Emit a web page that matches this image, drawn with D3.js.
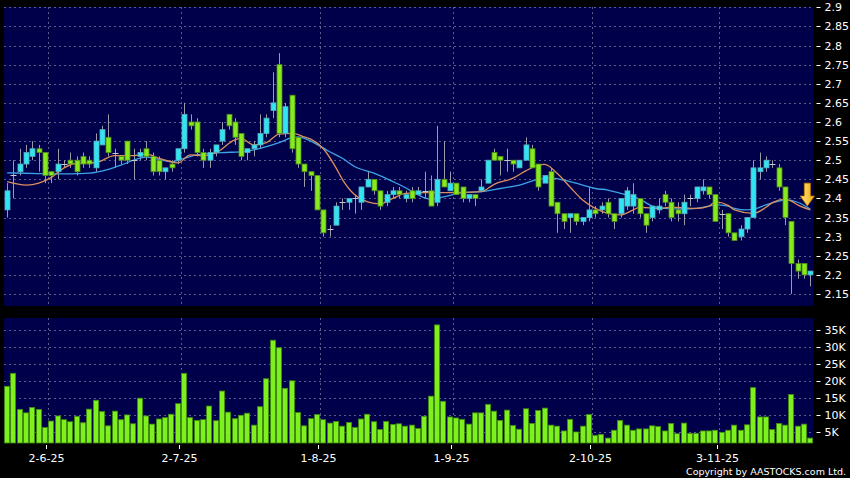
<!DOCTYPE html>
<html>
<head>
<meta charset="utf-8">
<script src="https://cdn.jsdelivr.net/npm/d3@7"></script>
<style>
  body { margin: 0; background: #000; }
  svg { display: block; font-family: 'DejaVu Sans', sans-serif; }
</style>
</head>
<body>
<div id="vis"></div>
<script>
// trading days, May 22 - Nov 21 2025
const mayDays = [22, 23, 26, 27, 28, 29, 30];
const junDays = [2, 3, 4, 5, 6, 9, 10, 11, 12, 13, 16, 17, 18, 19, 20, 23, 24, 25, 26, 27, 30];
const julDays = [2, 3, 4, 7, 8, 9, 10, 11, 14, 15, 16, 17, 18, 21, 22, 23, 24, 25, 28, 29, 30, 31];
const augDays = [1, 4, 5, 6, 7, 8, 11, 12, 13, 14, 15, 18, 19, 20, 21, 22, 25, 26, 27, 28, 29];
const sepDays = [1, 2, 3, 4, 5, 8, 9, 10, 11, 12, 15, 16, 17, 18, 19, 22, 23, 24, 25, 26, 29, 30];
const octDays = [2, 3, 6, 8, 9, 10, 13, 14, 15, 16, 17, 20, 21, 22, 23, 24, 27, 28, 30, 31];
const novDays = [3, 4, 5, 6, 7, 10, 11, 12, 13, 14, 17, 18, 19, 20, 21];

const opens = [
  2.37, 2.46, 2.47, 2.49, 2.51, 2.53, 2.52, 2.47, 2.47, 2.49,
  2.50, 2.50, 2.51, 2.50, 2.48, 2.54, 2.56, 2.52, 2.51, 2.55,
  2.50, 2.51, 2.53, 2.51, 2.50, 2.47, 2.49, 2.50, 2.53, 2.60,
  2.60, 2.52, 2.50, 2.52, 2.55, 2.62, 2.60, 2.57, 2.52, 2.53,
  2.54, 2.57, 2.63, 2.75, 2.57, 2.67, 2.56, 2.49, 2.47, 2.46,
  2.37, 2.32, 2.33, 2.39, 2.39, 2.40, 2.39, 2.43, 2.45, 2.42,
  2.39, 2.41, 2.42, 2.40, 2.42, 2.41, 2.42, 2.42, 2.39, 2.45,
  2.42, 2.44, 2.43, 2.40, 2.41, 2.42, 2.44, 2.52, 2.51, 2.50,
  2.50, 2.48, 2.50, 2.53, 2.49, 2.44, 2.47, 2.39, 2.36, 2.35,
  2.36, 2.34, 2.35, 2.37, 2.37, 2.39, 2.36, 2.36, 2.38, 2.38,
  2.40, 2.36, 2.35, 2.37, 2.41, 2.39, 2.37, 2.36, 2.40, 2.40,
  2.42, 2.43, 2.41, 2.36, 2.36, 2.31, 2.30, 2.32, 2.35, 2.47,
  2.48, 2.49, 2.48, 2.43, 2.34, 2.23, 2.23, 2.20
];
const highs = [
  2.44, 2.50, 2.53, 2.54, 2.55, 2.54, 2.52, 2.47, 2.53, 2.50,
  2.52, 2.51, 2.52, 2.51, 2.57, 2.59, 2.62, 2.53, 2.51, 2.55,
  2.53, 2.53, 2.55, 2.52, 2.51, 2.48, 2.50, 2.53, 2.65, 2.62,
  2.61, 2.53, 2.53, 2.54, 2.60, 2.62, 2.61, 2.57, 2.53, 2.55,
  2.62, 2.62, 2.73, 2.78, 2.65, 2.67, 2.56, 2.49, 2.47, 2.46,
  2.37, 2.33, 2.39, 2.40, 2.40, 2.41, 2.43, 2.47, 2.45, 2.42,
  2.42, 2.43, 2.43, 2.42, 2.43, 2.43, 2.47, 2.46, 2.59, 2.55,
  2.47, 2.44, 2.43, 2.41, 2.41, 2.45, 2.50, 2.53, 2.51, 2.53,
  2.50, 2.50, 2.56, 2.54, 2.49, 2.46, 2.48, 2.39, 2.36, 2.36,
  2.36, 2.35, 2.43, 2.38, 2.39, 2.40, 2.36, 2.40, 2.43, 2.44,
  2.40, 2.36, 2.38, 2.40, 2.42, 2.40, 2.39, 2.41, 2.41, 2.43,
  2.45, 2.43, 2.41, 2.37, 2.36, 2.31, 2.33, 2.35, 2.50, 2.52,
  2.51, 2.50, 2.49, 2.43, 2.34, 2.24, 2.23, 2.21
];
const lows = [
  2.35, 2.40, 2.46, 2.48, 2.50, 2.47, 2.44, 2.44, 2.45, 2.48,
  2.48, 2.46, 2.48, 2.48, 2.47, 2.54, 2.51, 2.48, 2.49, 2.49,
  2.45, 2.50, 2.50, 2.46, 2.46, 2.45, 2.47, 2.49, 2.52, 2.58,
  2.51, 2.48, 2.48, 2.51, 2.54, 2.58, 2.54, 2.50, 2.50, 2.51,
  2.53, 2.56, 2.61, 2.56, 2.56, 2.52, 2.48, 2.43, 2.42, 2.37,
  2.30, 2.30, 2.33, 2.37, 2.37, 2.36, 2.37, 2.43, 2.41, 2.37,
  2.38, 2.40, 2.40, 2.39, 2.39, 2.41, 2.40, 2.38, 2.38, 2.43,
  2.42, 2.41, 2.39, 2.39, 2.38, 2.42, 2.44, 2.50, 2.46, 2.47,
  2.47, 2.48, 2.50, 2.48, 2.42, 2.44, 2.38, 2.31, 2.32, 2.31,
  2.33, 2.33, 2.34, 2.35, 2.36, 2.35, 2.32, 2.35, 2.37, 2.36,
  2.35, 2.31, 2.34, 2.36, 2.38, 2.34, 2.34, 2.33, 2.38, 2.39,
  2.41, 2.40, 2.34, 2.32, 2.30, 2.29, 2.29, 2.31, 2.35, 2.45,
  2.47, 2.48, 2.42, 2.33, 2.15, 2.19, 2.19, 2.17
];
const closes = [
  2.42, 2.46, 2.49, 2.52, 2.53, 2.52, 2.46, 2.46, 2.49, 2.49,
  2.49, 2.47, 2.49, 2.49, 2.55, 2.58, 2.52, 2.52, 2.50, 2.50,
  2.50, 2.52, 2.51, 2.47, 2.47, 2.48, 2.48, 2.53, 2.62, 2.59,
  2.52, 2.50, 2.52, 2.54, 2.58, 2.59, 2.56, 2.51, 2.53, 2.54,
  2.57, 2.61, 2.65, 2.57, 2.64, 2.53, 2.49, 2.47, 2.46, 2.37,
  2.31, 2.32, 2.38, 2.39, 2.40, 2.40, 2.43, 2.45, 2.42, 2.38,
  2.41, 2.42, 2.41, 2.41, 2.40, 2.42, 2.42, 2.38, 2.45, 2.43,
  2.44, 2.41, 2.40, 2.41, 2.40, 2.43, 2.50, 2.50, 2.50, 2.50,
  2.49, 2.50, 2.54, 2.48, 2.43, 2.46, 2.38, 2.36, 2.34, 2.36,
  2.34, 2.35, 2.37, 2.36, 2.38, 2.36, 2.34, 2.40, 2.42, 2.41,
  2.36, 2.33, 2.38, 2.38, 2.39, 2.35, 2.36, 2.39, 2.40, 2.43,
  2.43, 2.41, 2.34, 2.36, 2.31, 2.29, 2.32, 2.35, 2.48, 2.48,
  2.50, 2.49, 2.43, 2.35, 2.23, 2.21, 2.20, 2.21
];
// volume, thousands of shares
const volumes = [
  18.5, 22.3, 11.7, 10.7, 12.3, 11.7, 6.4, 8.3, 9.8, 8.7,
  8.1, 9.7, 7.8, 11.8, 14.4, 11.1, 6.9, 11.2, 8.7, 10.1,
  7.5, 15.0, 9.8, 7.4, 8.9, 9.3, 10.3, 13.4, 22.3, 9.3,
  8.5, 8.7, 12.7, 8.4, 17.1, 10.9, 9.0, 10.0, 10.6, 7.1,
  12.5, 20.7, 32.0, 29.8, 17.9, 20.1, 10.8, 6.9, 9.0, 10.2,
  8.7, 7.7, 8.2, 6.8, 7.9, 6.4, 8.9, 10.3, 8.1, 5.8,
  8.2, 7.3, 7.5, 6.8, 7.1, 6.1, 9.7, 15.6, 36.5, 14.1,
  9.5, 9.2, 8.8, 7.4, 10.7, 10.7, 13.2, 11.2, 8.5, 11.5,
  7.0, 5.9, 11.9, 7.6, 11.4, 12.1, 7.1, 6.8, 5.4, 8.8,
  5.1, 6.8, 10.2, 4.1, 4.4, 3.3, 5.6, 8.5, 7.1, 5.6,
  6.0, 6.0, 6.9, 6.7, 5.4, 7.6, 4.6, 7.7, 4.7, 4.7,
  5.4, 5.4, 5.6, 5.0, 5.6, 7.1, 5.6, 7.2, 18.1, 9.5,
  9.5, 5.8, 7.6, 7.1, 16.1, 6.8, 7.4, 3.3
];

// moving averages: [day index, value]
const maShort = [
  [0, 2.444], [3, 2.435], [5, 2.440], [7, 2.455], [9, 2.480], [11, 2.492], [14, 2.494],
  [17, 2.512], [20, 2.512], [22, 2.516], [24, 2.505], [27, 2.493], [29, 2.514], [31, 2.512],
  [33, 2.519], [36, 2.553], [37, 2.557], [39, 2.540], [41, 2.546], [43, 2.568], [45, 2.570],
  [47, 2.561], [48, 2.555], [50, 2.530], [52, 2.480], [53, 2.450], [55, 2.409], [57, 2.391],
  [59, 2.386], [61, 2.400], [63, 2.413], [66, 2.415], [70, 2.415], [75, 2.418], [77, 2.437],
  [80, 2.453], [82, 2.472], [84, 2.487], [85, 2.489], [87, 2.465], [89, 2.430], [91, 2.396],
  [93, 2.374], [95, 2.361], [97, 2.357], [99, 2.370], [100, 2.377], [103, 2.374], [105, 2.377],
  [109, 2.374], [111, 2.380], [112, 2.391], [114, 2.382], [115, 2.370], [118, 2.361],
  [120, 2.377], [121, 2.389], [123, 2.398], [124, 2.393], [125, 2.383], [127, 2.370]
];
const maLong = [
  [0, 2.467], [5, 2.465], [10, 2.464], [13, 2.466], [16, 2.476], [18, 2.487], [20, 2.500],
  [22, 2.508], [24, 2.502], [26, 2.496], [28, 2.505], [30, 2.514], [34, 2.520], [37, 2.522],
  [40, 2.531], [43, 2.546], [45, 2.559], [46, 2.561], [48, 2.550], [51, 2.522], [53, 2.505],
  [55, 2.483], [58, 2.466], [61, 2.444], [63, 2.428], [65, 2.409], [67, 2.398], [69, 2.404],
  [72, 2.415], [75, 2.418], [78, 2.426], [81, 2.435], [84, 2.450], [86, 2.453], [88, 2.448],
  [91, 2.435], [93, 2.426], [95, 2.422], [97, 2.413], [100, 2.398], [102, 2.380], [104, 2.374],
  [107, 2.372], [109, 2.374], [111, 2.380], [112, 2.383], [114, 2.380], [115, 2.374],
  [117, 2.370], [118, 2.372], [120, 2.383], [122, 2.393], [123, 2.396], [125, 2.390], [127, 2.372]
];

const priceTicks = [2.15, 2.2, 2.25, 2.3, 2.35, 2.4, 2.45, 2.5, 2.55, 2.6, 2.65, 2.7, 2.75, 2.8, 2.85, 2.9];
const volumeTicks = [5, 10, 15, 20, 25, 30, 35];
const dateTicks = ['2025-06-02', '2025-07-02', '2025-08-01', '2025-09-01', '2025-10-02', '2025-11-03'];
const arrowTop = 2.44;
const arrowTip = 2.38;

function stockChart() {
  const width = 850;
  const height = 478;
  const plotLeft = 4;
  const plotRight = 813.5;
  const priceTop = 7;
  const priceBottom = 306;
  const volTop = 318;
  const volBottom = 443;

  const upColor = '#30e4f4';
  const downColor = '#86ea1e';
  const gridColor = '#5c5c8c';
  const panelColor = '#00004a';

  const monthDays = [mayDays, junDays, julDays, augDays, sepDays, octDays, novDays];
  const dates = [];
  monthDays.forEach((days, m) => {
    days.forEach((d) => dates.push(d3.timeFormat('%Y-%m-%d')(new Date(2025, 4 + m, d))));
  });

  const candles = dates.map((d, i) => {
    return {
      date: d,
      open: opens[i],
      high: highs[i],
      low: lows[i],
      close: closes[i],
      volume: volumes[i]
    };
  });

  const x = d3.scaleBand().domain(dates).range([plotLeft, plotRight]);
  const cx = (d) => Math.round(x(d) + x.step() / 2) + 0.5;

  const y = d3.scaleLinear().domain([2.9, 2.15]).range([7.3, 294]);
  const yVol = d3.scaleLinear().domain([35, 5]).range([330, 432.3]);

  const svg = d3.select('#vis')
    .append('svg')
    .attr('width', width)
    .attr('height', height);

  svg.append('rect')
    .attr('width', width)
    .attr('height', height)
    .attr('fill', '#000');

  // panels
  [[priceTop, priceBottom], [volTop, volBottom]].forEach(([t, b]) => {
    svg.append('rect')
      .attr('x', plotLeft)
      .attr('y', t)
      .attr('width', plotRight - plotLeft)
      .attr('height', b - t)
      .attr('fill', panelColor);
  });

  const grid = svg.append('g')
    .attr('stroke', gridColor)
    .attr('stroke-width', 1)
    .attr('stroke-dasharray', '2,3');

  grid.selectAll('.hp')
    .data(priceTicks)
    .join('line')
    .attr('x1', plotLeft)
    .attr('x2', plotRight)
    .attr('y1', (d) => Math.round(y(d)) + 0.5)
    .attr('y2', (d) => Math.round(y(d)) + 0.5);

  grid.selectAll('.hv')
    .data(volumeTicks)
    .join('line')
    .attr('x1', plotLeft)
    .attr('x2', plotRight)
    .attr('y1', (d) => Math.round(yVol(d)) + 0.5)
    .attr('y2', (d) => Math.round(yVol(d)) + 0.5);

  dateTicks.forEach((d) => {
    const gx = Math.round(x(d)) + 0.5;
    grid.append('line').attr('x1', gx).attr('x2', gx).attr('y1', priceTop).attr('y2', priceBottom);
    grid.append('line').attr('x1', gx).attr('x2', gx).attr('y1', volTop).attr('y2', volBottom);
  });

  // volume bars
  svg.append('g')
    .selectAll('rect')
    .data(candles)
    .join('rect')
    .attr('x', (d) => Math.round(x(d.date)) + 0.5)
    .attr('width', x.step() - 1.2)
    .attr('y', (d) => yVol(d.volume))
    .attr('height', (d) => volBottom - yVol(d.volume))
    .attr('fill', '#7ef01e')
    .attr('stroke', '#3f8a10')
    .attr('stroke-width', 0.8);

  // wicks
  svg.append('g')
    .selectAll('line')
    .data(candles)
    .join('line')
    .attr('x1', (d) => cx(d.date))
    .attr('x2', (d) => cx(d.date))
    .attr('y1', (d) => y(d.high))
    .attr('y2', (d) => y(d.low))
    .attr('stroke', '#9a9aaa')
    .attr('stroke-width', 1);

  // moving averages
  const line = d3.line()
    .x((d) => x(dates[d[0]]) + x.step() / 2)
    .y((d) => y(d[1]))
    .curve(d3.curveMonotoneX);

  svg.append('path')
    .datum(maLong)
    .attr('d', line)
    .attr('fill', 'none')
    .attr('stroke', '#3ea2e6')
    .attr('stroke-width', 1.3);

  svg.append('path')
    .datum(maShort)
    .attr('d', line)
    .attr('fill', 'none')
    .attr('stroke', '#dc8f5c')
    .attr('stroke-width', 1.3);

  // bodies
  const bodies = candles.filter((d) => d.open !== d.close);
  svg.append('g')
    .selectAll('rect')
    .data(bodies)
    .join('rect')
    .attr('x', (d) => cx(d.date) - 2.5)
    .attr('width', 5)
    .attr('y', (d) => y(Math.max(d.open, d.close)))
    .attr('height', (d) => Math.max(1.5, Math.abs(y(d.open) - y(d.close))))
    .attr('fill', (d) => d.close > d.open ? upColor : downColor)
    .attr('stroke', (d) => d.close > d.open ? '#5aaab8' : '#4e8c18')
    .attr('stroke-width', 0.8);

  // doji crosses
  svg.append('g')
    .selectAll('line')
    .data(candles.filter((d) => d.open === d.close))
    .join('line')
    .attr('x1', (d) => cx(d.date) - 3)
    .attr('x2', (d) => cx(d.date) + 3)
    .attr('y1', (d) => Math.round(y(d.close)) + 0.5)
    .attr('y2', (d) => Math.round(y(d.close)) + 0.5)
    .attr('stroke', '#c8c8d0')
    .attr('stroke-width', 1);

  // down arrow at the last day
  const last = dates[dates.length - 1];
  const ax = x(last) + x.step() / 2 - 3;
  const yTop = y(arrowTop);
  const yTip = y(arrowTip);
  const yNeck = yTip - 10;
  const defs = svg.append('defs');
  const grad = defs.append('linearGradient')
    .attr('id', 'arrowFill')
    .attr('x1', 0).attr('x2', 1).attr('y1', 0).attr('y2', 0);
  grad.append('stop').attr('offset', '0%').attr('stop-color', '#ffe680');
  grad.append('stop').attr('offset', '100%').attr('stop-color', '#f2a90c');

  svg.append('path')
    .attr('d', [
      'M', ax - 3, yTop,
      'L', ax + 3, yTop,
      'L', ax + 3, yNeck,
      'L', ax + 7, yNeck,
      'L', ax, yTip,
      'L', ax - 7, yNeck,
      'L', ax - 3, yNeck,
      'Z'
    ].join(' '))
    .attr('fill', 'url(#arrowFill)')
    .attr('stroke', '#c98400')
    .attr('stroke-width', 0.8);

  // right axes
  const axisX = plotRight + 3;
  const yLabels = svg.append('g')
    .attr('fill', '#fff')
    .attr('font-size', 11);

  priceTicks.forEach((t) => {
    const ty = Math.round(y(t)) + 0.5;
    svg.append('line')
      .attr('x1', axisX).attr('x2', axisX + 4)
      .attr('y1', ty).attr('y2', ty)
      .attr('stroke', '#fff');
    yLabels.append('text')
      .attr('x', axisX + 8)
      .attr('y', ty)
      .attr('dy', '0.35em')
      .text(d3.format('')(t));
  });

  volumeTicks.forEach((t) => {
    const ty = Math.round(yVol(t)) + 0.5;
    svg.append('line')
      .attr('x1', axisX).attr('x2', axisX + 4)
      .attr('y1', ty).attr('y2', ty)
      .attr('stroke', '#fff');
    yLabels.append('text')
      .attr('x', axisX + 8)
      .attr('y', ty)
      .attr('dy', '0.35em')
      .text(t + 'K');
  });

  // date axis
  const fmt = d3.timeFormat('%-d-%-m-%y');
  dateTicks.forEach((d) => {
    const tx = Math.round(x(d)) - 1.5;
    svg.append('line')
      .attr('x1', tx).attr('x2', tx)
      .attr('y1', volBottom + 2).attr('y2', volBottom + 6)
      .attr('stroke', '#fff');
    svg.append('text')
      .attr('x', tx)
      .attr('y', 462)
      .attr('text-anchor', 'middle')
      .attr('fill', '#fff')
      .attr('font-size', 11)
      .text(fmt(d3.timeParse('%Y-%m-%d')(d)));
  });

  svg.append('text')
    .attr('x', 846)
    .attr('y', 475)
    .attr('text-anchor', 'end')
    .attr('fill', '#fff')
    .attr('font-size', 9.5)
    .text('Copyright by AASTOCKS.com Ltd.');
}

stockChart();
</script>
</body>
</html>
